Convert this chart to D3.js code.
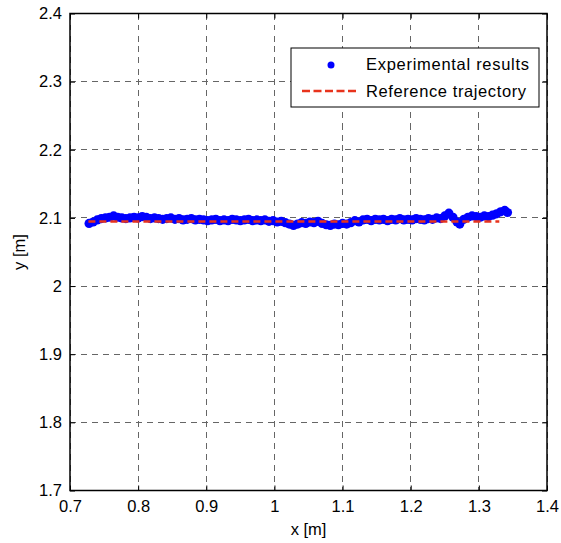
<!DOCTYPE html>
<html><head><meta charset="utf-8">
<script src="https://cdn.jsdelivr.net/npm/d3@7"></script>
<style>body{margin:0;background:#fff;} text{font-family:"Liberation Sans",Arial,sans-serif;}</style>
</head><body>
<svg id="c" width="561" height="543"></svg>
<script>
const xTicks = [0.7,0.8,0.9,1.0,1.1,1.2,1.3,1.4];
const xTickLabels = ["0.7","0.8","0.9","1","1.1","1.2","1.3","1.4"];
const yTicks = [1.7,1.8,1.9,2.0,2.1,2.2,2.3,2.4];
const yTickLabels = ["1.7","1.8","1.9","2","2.1","2.2","2.3","2.4"];
const refX = [0.727, 1.330];
const refY = [2.0948, 2.0948];
const expX = [0.728,0.734,0.740,0.746,0.752,0.758,0.764,0.770,0.776,0.782,0.788,0.794,0.800,0.806,0.812,0.818,0.824,0.830,0.836,0.842,0.848,0.854,0.860,0.866,0.872,0.878,0.884,0.890,0.896,0.902,0.908,0.914,0.920,0.926,0.932,0.938,0.944,0.950,0.956,0.962,0.968,0.974,0.980,0.986,0.992,0.998,1.004,1.010,1.016,1.022,1.028,1.034,1.040,1.046,1.052,1.058,1.064,1.070,1.076,1.082,1.088,1.094,1.100,1.106,1.112,1.118,1.124,1.130,1.136,1.142,1.148,1.154,1.160,1.166,1.172,1.178,1.184,1.190,1.196,1.202,1.208,1.214,1.220,1.226,1.232,1.238,1.244,1.250,1.256,1.262,1.268,1.272,1.278,1.284,1.290,1.296,1.302,1.308,1.314,1.320,1.326,1.332,1.338,1.342];
const expY = [2.092,2.094,2.097,2.099,2.100,2.101,2.103,2.101,2.100,2.099,2.100,2.101,2.100,2.102,2.101,2.099,2.100,2.099,2.098,2.099,2.100,2.098,2.099,2.097,2.098,2.099,2.097,2.098,2.097,2.096,2.097,2.098,2.096,2.097,2.096,2.098,2.097,2.096,2.097,2.098,2.096,2.097,2.096,2.097,2.095,2.096,2.094,2.095,2.093,2.091,2.089,2.091,2.093,2.092,2.094,2.093,2.095,2.092,2.090,2.089,2.091,2.090,2.092,2.091,2.093,2.096,2.094,2.097,2.098,2.096,2.098,2.097,2.098,2.096,2.098,2.097,2.099,2.097,2.098,2.097,2.099,2.098,2.097,2.099,2.098,2.100,2.099,2.103,2.107,2.101,2.094,2.091,2.098,2.101,2.103,2.102,2.101,2.103,2.102,2.104,2.106,2.109,2.111,2.108];
const legendLabels = ["Experimental results","Reference trajectory"];
const legendWidths = [163,160];

const L=70, R=547, T=13.5, B=490.5;
const FONT = 16.5;
const svg = d3.select("#c");
const x = d3.scaleLinear().domain([0.7,1.4]).range([L,R]);
const y = d3.scaleLinear().domain([1.7,2.4]).range([B,T]);

// grid
const g = svg.append("g");
g.selectAll(".gx").data(xTicks).enter().append("line")
 .attr("x1",d=>x(d)).attr("x2",d=>x(d)).attr("y1",T).attr("y2",B)
 .attr("stroke","#666").attr("stroke-width",1).attr("stroke-dasharray","6,5").attr("shape-rendering","crispEdges");
g.selectAll(".gy").data(yTicks).enter().append("line")
 .attr("y1",d=>y(d)).attr("y2",d=>y(d)).attr("x1",L).attr("x2",R)
 .attr("stroke","#666").attr("stroke-width",1).attr("stroke-dasharray","6,5").attr("shape-rendering","crispEdges");

// axes with inner ticks
const fmtX = (d,i)=>xTickLabels[i];
const fmtY = (d,i)=>yTickLabels[i];
const axB = svg.append("g").attr("transform",`translate(0,${B})`).call(d3.axisBottom(x).tickValues(xTicks).tickFormat(fmtX).tickSizeInner(-5).tickSizeOuter(0).tickPadding(10));
const axL = svg.append("g").attr("transform",`translate(${L},0)`).call(d3.axisLeft(y).tickValues(yTicks).tickFormat(fmtY).tickSizeInner(-5).tickSizeOuter(0).tickPadding(8));
const axT = svg.append("g").attr("transform",`translate(0,${T})`).call(d3.axisTop(x).tickValues(xTicks).tickFormat("").tickSizeInner(-5).tickSizeOuter(0));
const axR = svg.append("g").attr("transform",`translate(${R},0)`).call(d3.axisRight(y).tickValues(yTicks).tickFormat("").tickSizeInner(-5).tickSizeOuter(0));
[axB,axL,axT,axR].forEach(a=>{a.select(".domain").remove(); a.selectAll("line").attr("stroke","#000");
  a.selectAll("text").attr("font-size",FONT).attr("fill","#000").attr("font-family","Liberation Sans, Arial, sans-serif");});

// data
const pts = expX.map((d,i)=>[d,expY[i]]);
svg.append("g").selectAll("circle").data(pts).enter().append("circle")
 .attr("cx",d=>x(d[0])).attr("cy",d=>y(d[1])).attr("r",4.6).attr("fill","#0000ff");
svg.append("path").datum(refX.map((d,i)=>[d,refY[i]]))
 .attr("d",d3.line().x(d=>x(d[0])).y(d=>y(d[1])))
 .attr("stroke","#e8331c").attr("stroke-width",2.5).attr("fill","none").attr("stroke-dasharray","7,4");

// box
svg.append("rect").attr("x",L).attr("y",T).attr("width",R-L).attr("height",B-T)
 .attr("fill","none").attr("stroke","#000").attr("stroke-width",1.5);

// legend
const lg = svg.append("g");
lg.append("rect").attr("x",291).attr("y",48).attr("width",248).attr("height",59)
 .attr("fill","#fff").attr("stroke","#000").attr("stroke-width",1);
lg.append("circle").attr("cx",331).attr("cy",65).attr("r",3.5).attr("fill","#0000ff");
lg.append("line").attr("x1",302).attr("x2",356).attr("y1",91).attr("y2",91)
 .attr("stroke","#e8331c").attr("stroke-width",2.5).attr("stroke-dasharray","8,3.5");
lg.selectAll("text").data(legendLabels).enter().append("text")
 .attr("x",366).attr("y",(d,i)=>70+i*26.5).attr("font-size",FONT).attr("fill","#000")
 .attr("textLength",(d,i)=>legendWidths[i]).attr("lengthAdjust","spacing").text(d=>d);

// axis titles
svg.append("text").attr("x",(L+R)/2).attr("y",535).attr("text-anchor","middle").attr("font-size",FONT).text("x [m]");
svg.append("text").attr("transform",`translate(25,${(T+B)/2}) rotate(-90)`).attr("text-anchor","middle").attr("font-size",FONT).text("y [m]");
</script>
</body></html>
